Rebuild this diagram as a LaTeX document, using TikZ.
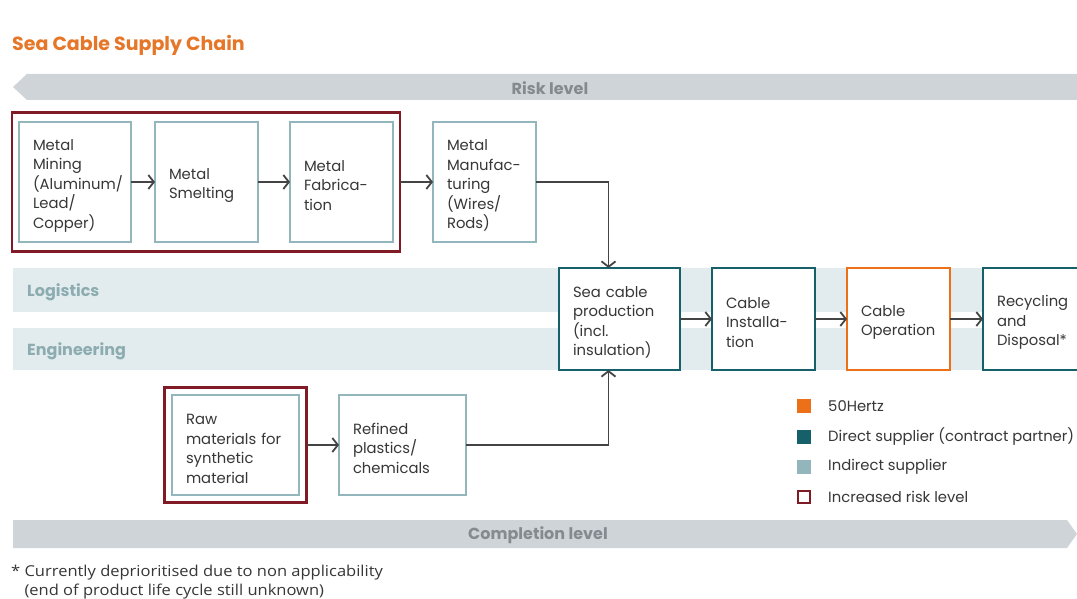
\documentclass[tikz,border=0pt]{standalone}
\usepackage{fontspec}
\setmainfont{Poppins}
\newfontfamily\notefont{Open Sans}[FakeStretch=1.1]
\usetikzlibrary{arrows.meta,positioning,fit}
\definecolor{hertzorange}{RGB}{236,112,24}
\definecolor{titleorange}{RGB}{230,118,40}
\definecolor{direct}{RGB}{22,96,106}
\definecolor{indirect}{RGB}{146,182,187}
\definecolor{riskred}{RGB}{128,26,36}
\definecolor{bandbg}{RGB}{226,236,238}
\definecolor{bandtext}{RGB}{140,172,176}
\definecolor{bargray}{RGB}{207,212,216}
\definecolor{bartext}{RGB}{132,138,143}
\definecolor{boxtext}{RGB}{55,55,55}
\definecolor{flowgray}{RGB}{68,68,68}

\begin{document}
\begin{tikzpicture}[x=1pt,y=-1pt,
    box/.style={draw=indirect,line width=2.2pt,fill=white,outer sep=0pt,
      inner xsep=14pt,inner ysep=0pt,text width=75pt,minimum height=120pt,
      align=left,text=boxtext,font={\fontsize{14.8}{19.5}\selectfont},
      execute at begin node={\rule{0pt}{18pt}}},
    riskbox/.style={draw=riskred,line width=2.2pt,outer sep=0pt},
    flow/.style={draw=flowgray,line width=1.8pt,-{Straight Barb[length=5.5pt,width=14pt]}},
    bartxt/.style={text=bartext,font={\fontsize{16}{18}\selectfont\bfseries}},
    bandtxt/.style={text=bandtext,anchor=west,inner sep=0pt,font={\fontsize{16}{18}\selectfont\bfseries}},
    legsq/.style={minimum size=14pt,inner sep=0pt,outer sep=0pt},
    legtxt/.style={anchor=west,inner sep=0pt,text=boxtext,font={\fontsize{14.8}{17}\selectfont}}]
  \useasboundingbox[fill=white] (0,0) rectangle (1077,599);

  \node[anchor=west,inner sep=0pt,text=titleorange,font={\fontsize{19}{22}\selectfont\bfseries}] (title) at (12,45) {Sea Cable Supply Chain};

  % risk and completion bars
  \fill[bargray] (13,87) -- (27,74) -- (1077,74) -- (1077,100) -- (27,100) -- cycle;
  \node[bartxt] (risk) at (550,88) {Risk level};
  \fill[bargray] (13,520) -- (1067,520) -- (1077,534) -- (1067,548) -- (13,548) -- cycle;
  \node[bartxt] (done) at (538,535) {Completion level};

  % logistics / engineering bands
  \fill[bandbg] (13,268) rectangle (1077,312);
  \fill[bandbg] (13,328) rectangle (1077,370);
  \node[bandtxt] (logi) at (27,292) {Logistics};
  \node[bandtxt] (engi) at (27,351) {Engineering};

  % metal chain
  \node[box,text width=84pt] (mining) at (75,182) {Metal\\Mining\\(Aluminum/\\Lead/\\Copper)};
  \node[box,right=24pt of mining] (smelt) {Metal\\Smelting};
  \node[box,right=32pt of smelt] (fab) {Metal\\Fabrica-\\tion};
  \node[box,right=40pt of fab] (manuf) {Metal\\Manufac-\\turing\\(Wires/\\Rods)};
  \node[riskbox,inner xsep=7pt,inner ysep=9.5pt,fit=(mining)(fab)] (metalrisk) {};

  % cable chain
  \node[box,draw=direct,text width=93pt,minimum height=102pt] (sea) at (619.5,319) {Sea cable\\production\\(incl.\\insulation)};
  \node[box,draw=direct,minimum height=102pt,right=32pt of sea] (install) {Cable\\Installa-\\tion};
  \node[box,draw=hertzorange,minimum height=102pt,right=32pt of install] (oper) {Cable\\Operation};
  \node[box,draw=direct,minimum height=102pt,right=33pt of oper] (recyc) {Recycling\\and\\Disposal*};

  % synthetic chain
  \node[box,text width=99pt,minimum height=100pt] (raw) at (235.5,445) {Raw\\materials for\\synthetic\\material};
  \node[box,text width=99pt,minimum height=100pt,right=40pt of raw] (refined) {Refined\\plastics/\\chemicals};
  \node[riskbox,inner sep=7.5pt,fit=(raw)] (rawrisk) {};

  % connectors
  \draw[flow] (mining) -- (smelt);
  \draw[flow] (smelt) -- (fab);
  \draw[flow] (metalrisk.east |- fab.east) -- (manuf.west);
  \draw[flow] (manuf.east) -| ([xshift=-11pt]sea.north);
  \draw[flow] (rawrisk.east |- raw.east) -- (refined.west);
  \draw[flow] (refined.east) -| ([xshift=-11pt]sea.south);
  \draw[flow] (sea) -- (install);
  \draw[flow] (install) -- (oper);
  \draw[flow] (oper) -- (recyc);

  % legend
  \node[legsq,fill=hertzorange] (lhertz) at (804,406) {};
  \node[legtxt,right=17pt of lhertz] (thertz) {50Hertz};
  \node[legsq,fill=direct] (ldirect) at (804,437) {};
  \node[legtxt,right=17pt of ldirect] (tdirect) {Direct supplier (contract partner)};
  \node[legsq,fill=indirect] (lindirect) at (804,467) {};
  \node[legtxt,right=17pt of lindirect] (tindirect) {Indirect supplier};
  \node[legsq,draw=riskred,line width=2pt,minimum size=12pt] (lrisk) at (804,497) {};
  \node[legtxt,right=18pt of lrisk] (trisk) {Increased risk level};

  % footnote
  \node[anchor=north west,inner sep=0pt,align=left,text=boxtext,
    font={\notefont\fontsize{15}{19}\selectfont}] (note) at (11,565)
    {* Currently deprioritised due to non applicability\\\phantom{*} (end of product life cycle still unknown)};
\end{tikzpicture}
\end{document}
